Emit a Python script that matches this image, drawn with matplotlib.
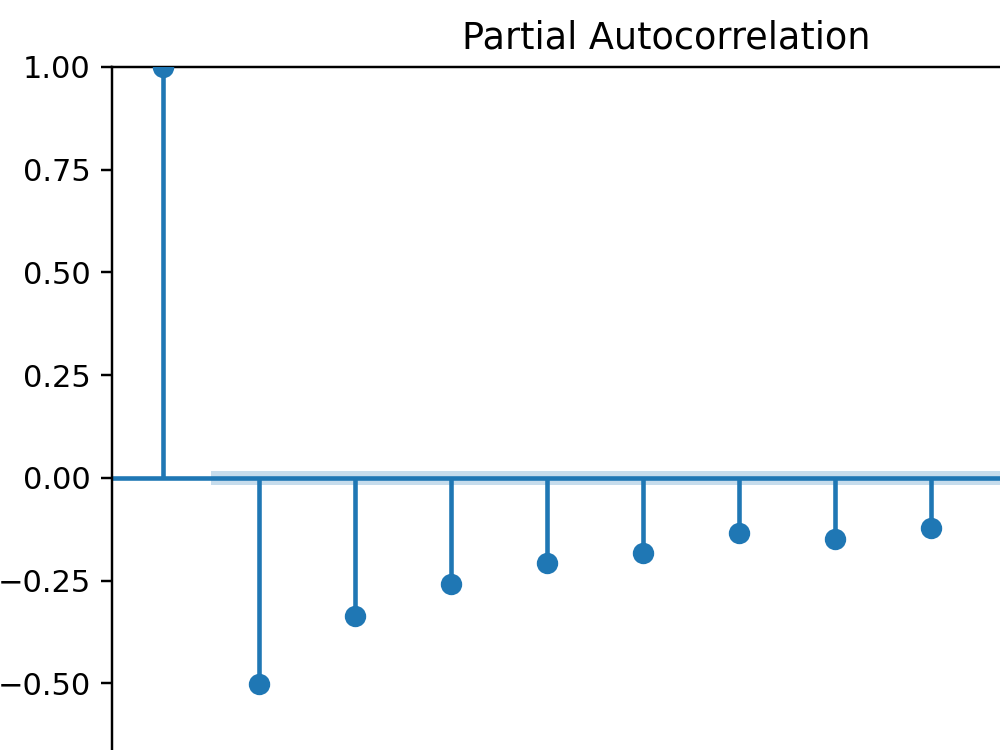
import matplotlib
matplotlib.use("Agg")
import matplotlib.pyplot as plt
import numpy as np

lags = [0, 1, 2, 3, 4, 5, 6, 7, 8, 9, 10]
pacf_vals = [1.0, -0.502, -0.337, -0.258, -0.208, -0.182, -0.133, -0.149, -0.121, -0.11, -0.10]
conf_half = 0.018
yticks = [-0.50, -0.25, 0.00, 0.25, 0.50, 0.75, 1.00]

DPI = 220
fig = plt.figure(figsize=(1000 / DPI, 750 / DPI), dpi=DPI)
ax = fig.add_axes([0.112, 0.9107 - 1.096, 1.108, 1.096])

ax.vlines(lags, 0, pacf_vals, color="C0", linewidth=1.5)
ax.scatter(lags, pacf_vals, s=36, color="C0", zorder=3, clip_on=True)
ax.axhline(0, color="C0", linewidth=1.5)
band_x = [0.5, 11.5]
ax.fill_between(band_x, [-conf_half] * 2, [conf_half] * 2, color="C0", alpha=0.25, linewidth=0)

ax.set_xlim(-0.531, 11.01)
ax.set_ylim(-1.0, 1.0)
ax.set_yticks(yticks)
ax.set_title("Partial Autocorrelation")

fig.savefig("out.png", dpi=DPI)
